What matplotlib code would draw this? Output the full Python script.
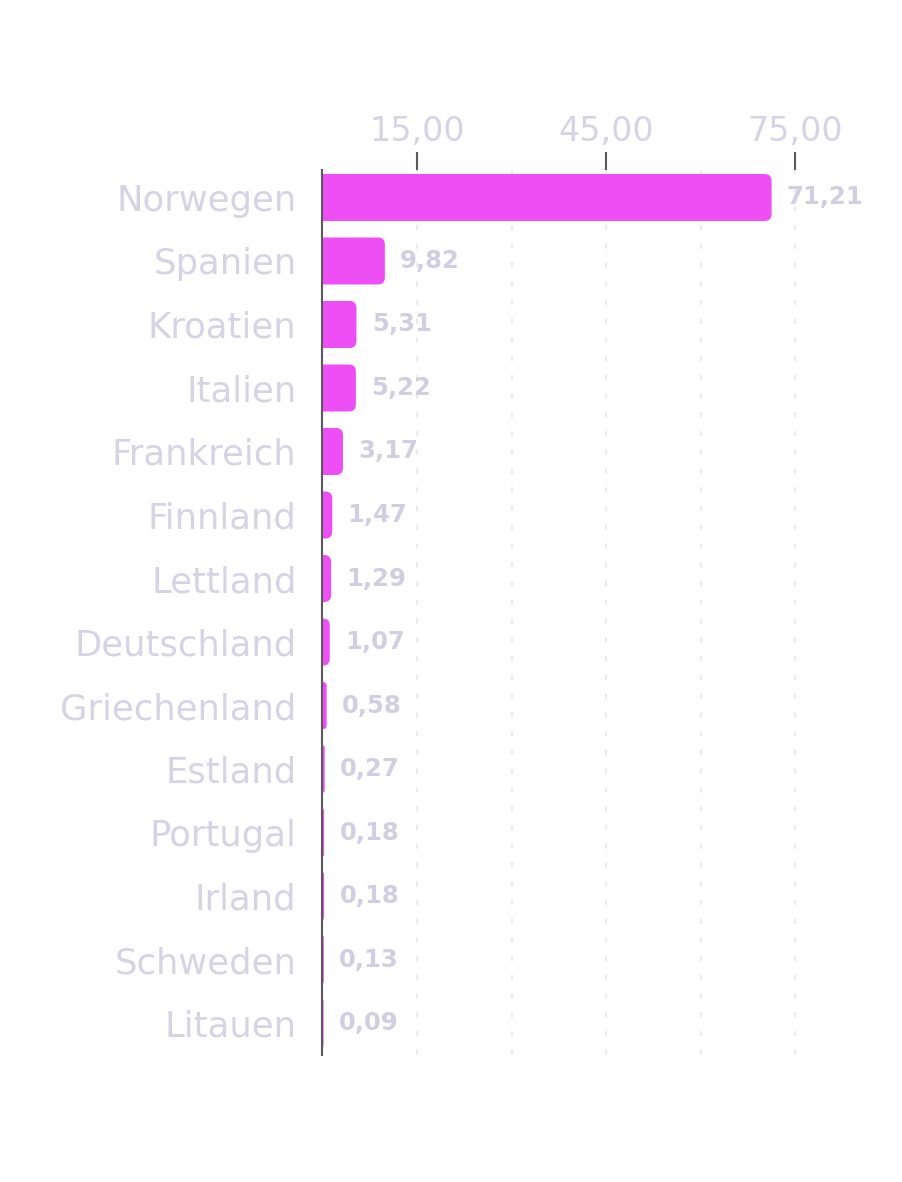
import matplotlib
matplotlib.use("Agg")
from matplotlib import pyplot as plt
from matplotlib.patches import FancyBboxPatch

countries = ["Norwegen", "Spanien", "Kroatien", "Italien", "Frankreich", "Finnland",
             "Lettland", "Deutschland", "Griechenland", "Estland", "Portugal", "Irland",
             "Schweden", "Litauen"]
values = [71.21, 9.82, 5.31, 5.22, 3.17, 1.47, 1.29, 1.07, 0.58, 0.27, 0.18, 0.18, 0.13, 0.09]
major_ticks = [15, 45, 75]
minor_ticks = [30, 60]

bar_color = "#EE4FF5"
text_color = "#D6D3E5"
value_color = "#D2CEE2"
axis_color = "#5A5A5A"

plt.rcParams["font.family"] = ["DejaVu Sans"]

fig = plt.figure(figsize=(9.03, 11.82), dpi=100)
ax = fig.add_axes([0.3577, 0.1074, 0.5581, 0.7488])

pos = list(range(len(countries)))
bars = ax.barh(pos, values, height=0.74, color=bar_color)

# swap plain bars for ones with rounded right ends
r = 1.1
for b in bars:
    x0, y0 = b.get_x(), b.get_y()
    w, h = b.get_width(), b.get_height()
    b.remove()
    dr = min(r, w)
    patch = FancyBboxPatch((x0 - r, y0), w + r, h,
                           boxstyle="round,pad=0,rounding_size=%f" % dr,
                           mutation_aspect=0.1, facecolor=bar_color,
                           edgecolor="none", zorder=2)
    ax.add_patch(patch)

for p, v in zip(pos, values):
    ax.annotate(("%.2f" % v).replace(".", ","), xy=(v, p), xytext=(11, 0),
                textcoords="offset points", va="center", ha="left",
                fontsize=17.5, fontweight="bold", color=value_color)

ax.set_xlim(0, 80)
ax.set_ylim(13.504, -0.433)

ax.xaxis.tick_top()
ax.set_xticks(major_ticks)
ax.set_xticklabels([("%.2f" % t).replace(".", ",") for t in major_ticks])
ax.set_xticks(minor_ticks, minor=True)
ax.tick_params(axis="x", which="major", length=13, width=1.5, color=axis_color,
               pad=3, labelsize=24, labelcolor=text_color)
ax.tick_params(axis="x", which="minor", length=0)

ax.set_yticks(pos)
ax.set_yticklabels(countries)
ax.tick_params(axis="y", length=0, pad=18, labelsize=25.5, labelcolor=text_color)

ax.grid(axis="x", which="both", linestyle=(0, (2.5, 6.5)), color="#EBEBEB",
        linewidth=1.5, zorder=0)
ax.set_axisbelow(True)

for s in ["top", "right", "bottom"]:
    ax.spines[s].set_visible(False)
ax.spines["left"].set_color(axis_color)
ax.spines["left"].set_linewidth(1.5)
ax.spines["left"].set_position(("outward", 1))
ax.spines["left"].set_zorder(3)

fig.savefig("out.png", dpi=100, facecolor="white")
